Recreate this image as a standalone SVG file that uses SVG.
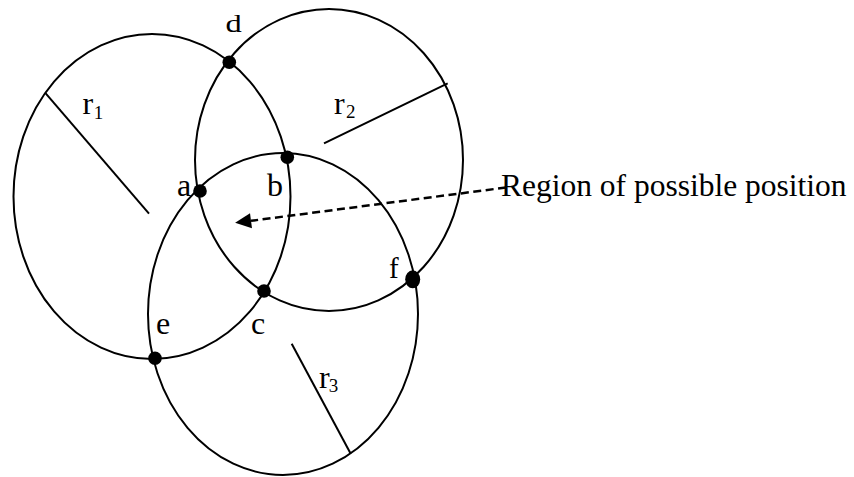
<svg xmlns="http://www.w3.org/2000/svg" width="854" height="477" viewBox="0 0 854 477">
<style>
.c{fill:none;stroke:#000;stroke-width:2}
.r{stroke:#000;stroke-width:2;fill:none}
.p{fill:#000}
.t{font-family:"Liberation Serif","Times New Roman",serif;fill:#000}
.s{font-family:"Liberation Serif","Times New Roman",serif;fill:#000;font-size:19px}
.arr{fill:none;stroke:#000;stroke-width:2.5;stroke-dasharray:8 4.5}
</style>
<defs>
<marker id="ah" markerUnits="userSpaceOnUse" viewBox="0 -7.5 16 15" refX="0" refY="0" markerWidth="16" markerHeight="15" orient="auto" overflow="visible">
<path d="M0,-7.5 L16,0 L0,7.5 z" fill="#000"/>
</marker>
</defs>
<rect width="854" height="477" fill="#fff"/>
<g id="circle1">
<ellipse class="c" cx="152" cy="196.5" rx="138.5" ry="162.5"/>
<line class="r" x1="45.7" y1="93.3" x2="149" y2="213.7"/>
<text class="t" x="82.5" y="114" font-size="32">r</text><text class="s" x="93.8" y="118.5">1</text>
</g>
<g id="circle2">
<ellipse class="c" cx="329" cy="160" rx="134" ry="151"/>
<line class="r" x1="324" y1="143.3" x2="447.7" y2="83.3"/>
<text class="t" x="334" y="113.5" font-size="32">r</text><text class="s" x="346" y="118">2</text>
</g>
<g id="circle3">
<ellipse class="c" cx="283" cy="314" rx="135" ry="161"/>
<line class="r" x1="291.7" y1="343.7" x2="350.7" y2="453.7"/>
<text class="t" x="319" y="387.5" font-size="32">r</text><text class="s" x="328.8" y="391.5">3</text>
</g>
<g id="point-d"><circle class="p" cx="229.3" cy="62.3" r="6.8"/><text class="t" transform="translate(225.5,32.3) scale(1.3,1)" font-size="25">d</text></g>
<g id="point-a"><circle class="p" cx="200" cy="191" r="6.8"/><text class="t" x="177" y="196" font-size="32">a</text></g>
<g id="point-b"><circle class="p" cx="287.3" cy="157.3" r="6.8"/><text class="t" x="267" y="196" font-size="32">b</text></g>
<g id="point-c"><circle class="p" cx="264" cy="291" r="6.8"/><text class="t" x="251" y="334" font-size="32">c</text></g>
<g id="point-e"><circle class="p" cx="155" cy="358.3" r="6.8"/><text class="t" x="156" y="334" font-size="32">e</text></g>
<g id="point-f"><ellipse class="p" cx="412.7" cy="279.3" rx="7.5" ry="9"/><text class="t" x="389" y="278" font-size="29">f</text></g>
<g id="region-label"><text class="t" x="501" y="196" font-size="31.5">Region of possible position</text></g>
<g id="connectors">
<path class="arr" d="M506,187.5 L251,220.8" marker-end="url(#ah)"/>
</g>
</svg>
